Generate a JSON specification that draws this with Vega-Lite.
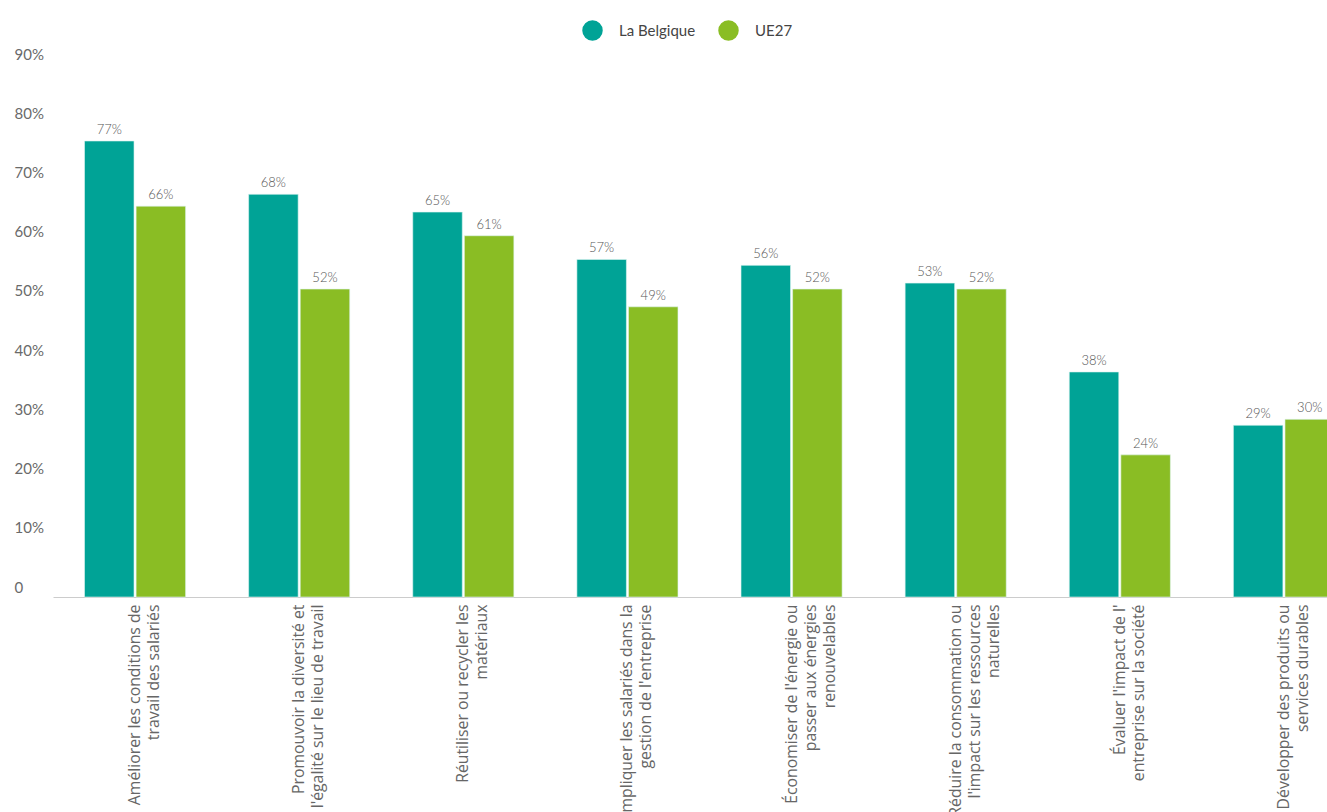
{
  "$schema": "https://vega.github.io/schema/vega-lite/v6.json",
  "width": 1317,
  "height": 533,
  "autosize": {"type": "none"},
  "padding": {"left": 10, "top": 64, "right": 0, "bottom": 215},
  "background": "white",
  "config": {
    "view": {"stroke": null},
    "font": "Lato"
  },
  "data": {
    "values": [
      {"cat": "Améliorer les conditions de|travail des salariés", "pays": "La Belgique", "v": 0.77},
      {"cat": "Améliorer les conditions de|travail des salariés", "pays": "UE27", "v": 0.66},
      {"cat": "Promouvoir la diversité et|l'égalité sur le lieu de travail", "pays": "La Belgique", "v": 0.68},
      {"cat": "Promouvoir la diversité et|l'égalité sur le lieu de travail", "pays": "UE27", "v": 0.52},
      {"cat": "Réutiliser ou recycler les|matériaux", "pays": "La Belgique", "v": 0.65},
      {"cat": "Réutiliser ou recycler les|matériaux", "pays": "UE27", "v": 0.61},
      {"cat": "Impliquer les salariés dans la|gestion de l'entreprise", "pays": "La Belgique", "v": 0.57},
      {"cat": "Impliquer les salariés dans la|gestion de l'entreprise", "pays": "UE27", "v": 0.49},
      {"cat": "Économiser de l'énergie ou|passer aux énergies|renouvelables", "pays": "La Belgique", "v": 0.56},
      {"cat": "Économiser de l'énergie ou|passer aux énergies|renouvelables", "pays": "UE27", "v": 0.52},
      {"cat": "Réduire la consommation ou|l'impact sur les ressources|naturelles", "pays": "La Belgique", "v": 0.53},
      {"cat": "Réduire la consommation ou|l'impact sur les ressources|naturelles", "pays": "UE27", "v": 0.52},
      {"cat": "Évaluer l'impact de l'|entreprise sur la société", "pays": "La Belgique", "v": 0.38},
      {"cat": "Évaluer l'impact de l'|entreprise sur la société", "pays": "UE27", "v": 0.24},
      {"cat": "Développer des produits ou|services durables", "pays": "La Belgique", "v": 0.29},
      {"cat": "Développer des produits ou|services durables", "pays": "UE27", "v": 0.30}
    ]
  },
  "encoding": {
    "x": {
      "field": "cat",
      "type": "nominal",
      "sort": null,
      "scale": {"range": [43, 1356], "paddingInner": 0.384, "paddingOuter": 0.192},
      "axis": {
        "title": null,
        "labelAngle": -90,
        "labelExpr": "split(datum.label, '|')",
        "labelFont": "Open Sans",
        "labelFontSize": 15.8,
        "labelColor": "#666666",
        "labelLineHeight": 19,
        "labelPadding": 7,
        "labelLimit": 400,
        "ticks": false,
        "domainColor": "#cccccc",
        "domainWidth": 1,
        "grid": false
      }
    },
    "xOffset": {
      "field": "pays",
      "type": "nominal",
      "sort": ["La Belgique", "UE27"],
      "scale": {"paddingInner": 0.04, "paddingOuter": 0}
    },
    "y": {
      "field": "v",
      "type": "quantitative",
      "scale": {"domain": [0, 0.9], "nice": false},
      "axis": {
        "title": null,
        "values": [0, 0.1, 0.2, 0.3, 0.4, 0.5, 0.6, 0.7, 0.8, 0.9],
        "labelExpr": "datum.value == 0 ? '0' : format(datum.value, '.0%')",
        "labelFont": "Lato",
        "labelFontSize": 15,
        "labelColor": "#6a6a6a",
        "labelAlign": "left",
        "labelPadding": -4,
        "labelOffset": -10,
        "ticks": false,
        "domain": false,
        "grid": false
      }
    }
  },
  "layer": [
    {
      "mark": {"type": "bar", "stroke": "#dff5f2", "strokeWidth": 0.6},
      "encoding": {
        "color": {
          "field": "pays",
          "type": "nominal",
          "sort": ["La Belgique", "UE27"],
          "scale": {"domain": ["La Belgique", "UE27"], "range": ["#00A396", "#8ABD24"]},
          "legend": {
            "title": null,
            "orient": "none",
            "legendX": 572,
            "legendY": -44,
            "direction": "horizontal",
            "symbolType": "circle",
            "symbolSize": 420,
            "symbolStrokeWidth": 0,
            "labelFont": "Lato",
            "labelFontSize": 15,
            "labelColor": "#444444",
            "labelOffset": 16,
            "columnPadding": 22,
            "padding": 0,
            "gridAlign": "none"
          }
        }
      }
    },
    {
      "mark": {"type": "text", "dy": -4, "baseline": "bottom", "font": "Lato", "fontSize": 13, "fontWeight": 300, "color": "#555555"},
      "encoding": {
        "text": {"field": "v", "type": "quantitative", "format": ".0%"},
        "detail": {"field": "pays"}
      }
    }
  ]
}
